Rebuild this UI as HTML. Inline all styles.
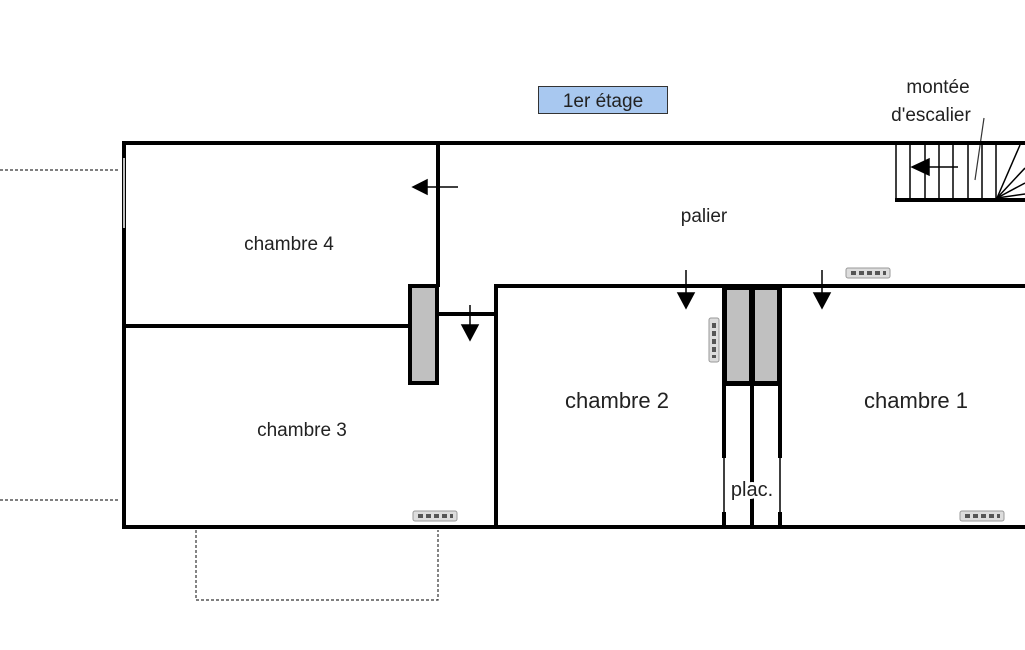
<!DOCTYPE html>
<html><head><meta charset="utf-8"><style>
html,body{margin:0;padding:0;background:#fff;}
svg{display:block;}
text{font-family:"Liberation Sans",sans-serif;fill:#222;}
</style></head><body>
<svg width="1025" height="650" viewBox="0 0 1025 650" xmlns="http://www.w3.org/2000/svg">
<defs>
<g id="rad"><rect x="0" y="0" width="44" height="10" rx="2" fill="#ddd" stroke="#999" stroke-width="1"/><g fill="#555"><rect x="5" y="3" width="5" height="4"/><rect x="13" y="3" width="5" height="4"/><rect x="21" y="3" width="5" height="4"/><rect x="29" y="3" width="5" height="4"/><rect x="37" y="3" width="3" height="4"/></g></g>
</defs>
<!-- title -->
<rect x="538.5" y="86.5" width="129" height="27" fill="#a8c8f0" stroke="#333" stroke-width="1"/>
<text x="603" y="107" font-size="19" text-anchor="middle">1er étage</text>
<text x="938" y="93" font-size="19" text-anchor="middle">montée</text>
<text x="931" y="121" font-size="19" text-anchor="middle">d'escalier</text>
<line x1="984" y1="118" x2="975" y2="180" stroke="#333" stroke-width="1.2"/>
<!-- dashed -->
<g stroke="#333" stroke-width="1.2" stroke-dasharray="3,2" fill="none">
<line x1="0" y1="170" x2="120" y2="170"/>
<line x1="0" y1="500" x2="120" y2="500"/>
<polyline points="196,530 196,600 438,600 438,530"/>
</g>
<!-- walls -->
<g stroke="#000" stroke-width="4" fill="none">
<line x1="124" y1="143" x2="1025" y2="143"/>
<line x1="124" y1="141" x2="124" y2="529"/>
<line x1="122" y1="527" x2="1025" y2="527"/>
<line x1="438" y1="143" x2="438" y2="287"/>
<line x1="124" y1="326" x2="410" y2="326"/>
<line x1="438" y1="314" x2="496" y2="314"/>
<line x1="496" y1="284" x2="496" y2="527"/>
<line x1="494" y1="286" x2="1025" y2="286"/>
<line x1="895" y1="200" x2="1025" y2="200"/>
<line x1="724" y1="286" x2="724" y2="458"/>
<line x1="724" y1="512" x2="724" y2="527"/>
<line x1="752" y1="286" x2="752" y2="527"/>
<line x1="780" y1="286" x2="780" y2="458"/>
<line x1="780" y1="512" x2="780" y2="527"/>
</g>
<line x1="724" y1="458" x2="724" y2="512" stroke="#000" stroke-width="1.5"/>
<line x1="780" y1="458" x2="780" y2="512" stroke="#000" stroke-width="1.5"/>
<line x1="124" y1="158" x2="124" y2="228" stroke="#fff" stroke-width="1.5"/>
<!-- gray blocks -->
<rect x="410" y="286" width="27" height="97" fill="#c0c0c0" stroke="#000" stroke-width="4"/>
<rect x="725" y="288" width="26" height="95" fill="#c0c0c0" stroke="#000" stroke-width="4"/>
<rect x="753" y="288" width="26" height="95" fill="#c0c0c0" stroke="#000" stroke-width="4"/>
<line x1="724" y1="384" x2="780" y2="384" stroke="#000" stroke-width="4"/>
<!-- stairs -->
<g stroke="#000" stroke-width="1.5">
<line x1="896" y1="145" x2="896" y2="200"/>
<line x1="910" y1="145" x2="910" y2="200"/>
<line x1="925" y1="145" x2="925" y2="200"/>
<line x1="939" y1="145" x2="939" y2="200"/>
<line x1="953" y1="145" x2="953" y2="200"/>
<line x1="968" y1="145" x2="968" y2="200"/>
<line x1="982" y1="145" x2="982" y2="200"/>
<line x1="996" y1="145" x2="996" y2="200"/>
<line x1="997" y1="198" x2="1020" y2="145"/>
<line x1="997" y1="198" x2="1025" y2="168"/>
<line x1="997" y1="198" x2="1025" y2="183"/>
<line x1="997" y1="198" x2="1025" y2="194"/>
</g>
<!-- arrows -->
<g stroke="#000" stroke-width="1.5" fill="#000">
<line x1="925" y1="167" x2="958" y2="167"/><polygon points="912,167 929,159 929,175"/>
<line x1="425" y1="187" x2="458" y2="187"/><polygon points="413,187 427,180 427,194"/>
<line x1="470" y1="305" x2="470" y2="328"/><polygon points="470,340 462,325 478,325"/>
<line x1="686" y1="270" x2="686" y2="295"/><polygon points="686,308 678,293 694,293"/>
<line x1="822" y1="270" x2="822" y2="295"/><polygon points="822,308 814,293 830,293"/>
</g>
<!-- radiators -->
<use href="#rad" x="846" y="268"/>
<use href="#rad" x="413" y="511"/>
<use href="#rad" x="960" y="511"/>
<use href="#rad" transform="translate(719,318) rotate(90)"/>
<!-- labels -->
<text x="289" y="250" font-size="19" text-anchor="middle">chambre 4</text>
<text x="302" y="436" font-size="19" text-anchor="middle">chambre 3</text>
<text x="704" y="222" font-size="19" text-anchor="middle">palier</text>
<text x="617" y="408" font-size="22" text-anchor="middle">chambre 2</text>
<text x="916" y="408" font-size="22" text-anchor="middle">chambre 1</text>
<text x="752" y="496" font-size="20" text-anchor="middle" style="paint-order:stroke" stroke="#fff" stroke-width="6">plac.</text>
</svg>
</body></html>
